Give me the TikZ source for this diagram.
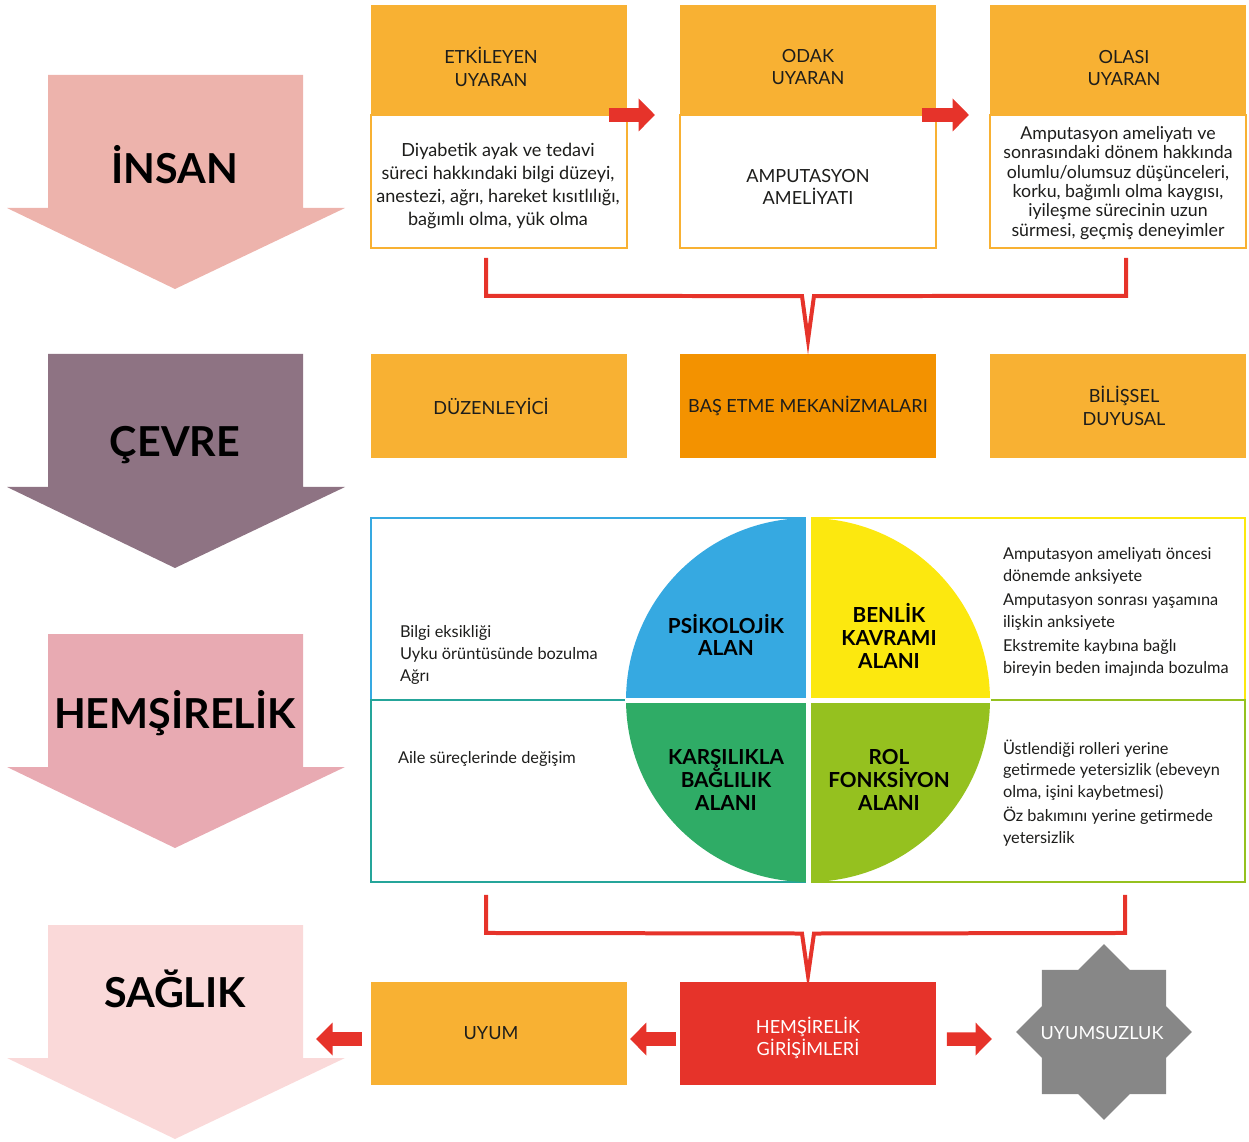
\documentclass[tikz,border=0pt]{standalone}
\usepackage{fontspec}
\setmainfont{Lato}
\usepackage{tikz}
\usetikzlibrary{calc,shapes.geometric,arrows.meta}

\definecolor{insanok}{HTML}{EDB3AC}
\definecolor{cevreok}{HTML}{8E7383}
\definecolor{hemsok}{HTML}{E8AAB2}
\definecolor{saglikok}{HTML}{FAD9D9}
\definecolor{turuncu}{HTML}{F8B133}
\definecolor{koyuturuncu}{HTML}{F39200}
\definecolor{kirmizi}{HTML}{E6332A}
\definecolor{mavi}{HTML}{36A9E1}
\definecolor{sari}{HTML}{FCE80F}
\definecolor{yesil}{HTML}{2FAC66}
\definecolor{acikyesil}{HTML}{95C11F}
\definecolor{camgobegi}{HTML}{25A59A}
\definecolor{gri}{HTML}{878787}
\definecolor{yazi}{HTML}{1D1D1B}

\begin{document}
\begin{tikzpicture}[x=0.02cm,y=-0.02cm]
\tikzstyle{every node}+=[inner sep=0pt, outer sep=0pt, text=yazi]
\tikzstyle{baslik}=[fill=turuncu, minimum width=5.12cm, minimum height=2.2cm]
\tikzstyle{icerik}=[draw=turuncu, line width=0.04cm, fill=white, minimum width=5.12cm, minimum height=2.66cm]
\tikzstyle{kutu}=[fill=turuncu, minimum width=5.12cm, minimum height=2.08cm]
\tikzstyle{metin}=[align=center, font=\fontsize{10.3}{13}\selectfont]
\tikzstyle{buyuk}=[text=black, font=\fontsize{23.5}{28}\selectfont\bfseries]
\tikzstyle{bolge}=[line width=0.04cm, minimum width=8.74cm, minimum height=3.64cm]
\tikzstyle{alan}=[text=black, align=center, font=\fontsize{11.8}{13}\selectfont\bfseries]
\tikzstyle{kucuk}=[anchor=west, align=left, font=\fontsize{9.3}{12.3}\selectfont]
\tikzstyle{parantez}=[draw=kirmizi, line width=0.08cm, line join=miter, miter limit=20]
\tikzstyle{blok}=[draw=kirmizi, line width=0.27cm, -{Triangle[length=0.33cm,width=0.64cm]}]
\useasboundingbox (0,0) rectangle (1249,1142);

% sol taraftaki buyuk oklar
\fill[insanok] (48,75) -- (303,75) -- (303,208) -- (345,208) -- (175,289) -- (7,208) -- (48,208) -- cycle;
\node[buyuk] (insan) at (175,165) {İNSAN};
\fill[cevreok] (48,354) -- (303,354) -- (303,487) -- (345,487) -- (175,568) -- (7,487) -- (48,487) -- cycle;
\node[buyuk] (cevre) at (175,445) {ÇEVRE};
\fill[hemsok] (48,634) -- (303,634) -- (303,767) -- (345,767) -- (175,848) -- (7,767) -- (48,767) -- cycle;
\node[buyuk] (hemsirelik) at (175,713) {HEMŞİRELİK};
\fill[saglikok] (48,925) -- (303,925) -- (303,1058) -- (345,1058) -- (175,1139) -- (7,1058) -- (48,1058) -- cycle;
\node[buyuk] (saglik) at (175,989) {SAĞLIK};

% uyaranlar
\node[baslik] (etkbas) at (499,60) {};
\node[metin] (etkbasyazi) at (491,67) {ETKİLEYEN\\UYARAN};
\node[icerik] (etkic) at (499,181.5) {};
\node[metin] (etkicyazi) at (498,186) {Diyabetik ayak ve tedavi\\süreci hakkındaki bilgi düzeyi,\\anestezi, ağrı, hareket kısıtlılığı,\\bağımlı olma, yük olma};
\node[baslik] (odakbas) at (808,60) {};
\node[metin] (odakbasyazi) at (808,67) {ODAK\\UYARAN};
\node[icerik] (odakic) at (808,181.5) {};
\node[metin] (odakicyazi) at (808,187) {AMPUTASYON\\AMELİYATI};
\node[baslik] (olasibas) at (1118,60) {};
\node[metin] (olasibasyazi) at (1124,68) {OLASI\\UYARAN};
\node[icerik] (olasiic) at (1118,181.5) {};
\node[metin, font=\fontsize{10.1}{11}\selectfont] (olasiicyazi) at (1118,183) {Amputasyon ameliyatı ve\\sonrasındaki dönem hakkında\\olumlu/olumsuz düşünceleri,\\korku, bağımlı olma kaygısı,\\iyileşme sürecinin uzun\\sürmesi, geçmiş deneyimler};
\draw[blok] ($(etkbas.south east)+(-18,0)$) -- ($(odakbas.south west)+(-25,0)$);
\draw[blok] ($(odakbas.south east)+(-14,0)$) -- ($(olasibas.south west)+(-21,0)$);

% mekanizmalar
\node[kutu] (duzen) at (499,406) {};
\node[metin] (duzenyazi) at (491,406) {DÜZENLEYİCİ};
\node[kutu, metin, fill=koyuturuncu] (basetme) at (808,406) {BAŞ ETME MEKANİZMALARI};
\node[kutu] (bilis) at (1118,406) {};
\node[metin] (bilisyazi) at (1124,406) {BİLİŞSEL\\DUYUSAL};

\coordinate (p1l) at ($(etkic.south)+(-13,10)$);
\coordinate (p1r) at ($(olasiic.south)+(8,10)$);
\coordinate (p1uc) at ($(basetme.north)+(0,-14)$);
\draw[parantez] (p1l) -- ($(p1l)+(0,38)$) -- ($(p1uc)+(-6,-44)$) -- (p1uc) -- ($(p1uc)+(6,-44)$) -- ($(p1r)+(0,38)$) -- (p1r);

% uyum alanlari
\node[bolge, draw=mavi] (solust) at (589.5,609) {};
\node[bolge, draw=sari] (sagust) at (1027,609) {};
\node[bolge, draw=camgobegi] (solalt) at (589.5,791) {};
\node[bolge, draw=acikyesil] (sagalt) at (1027,791) {};

\coordinate (merkez) at (808,700);
\begin{scope}
\clip (merkez) rectangle (600,500);
\fill[mavi] (merkez) circle[radius=3.64cm];
\end{scope}
\begin{scope}
\clip (merkez) rectangle (1010,500);
\fill[sari] (merkez) circle[radius=3.64cm];
\end{scope}
\begin{scope}
\clip (merkez) rectangle (600,900);
\fill[yesil] (merkez) circle[radius=3.64cm];
\end{scope}
\begin{scope}
\clip (merkez) rectangle (1010,900);
\fill[acikyesil] (merkez) circle[radius=3.64cm];
\end{scope}
\draw[white, line width=0.1cm] ($(merkez)+(0,-184)$) -- ($(merkez)+(0,184)$);
\draw[white, line width=0.1cm] ($(merkez)+(-183,0)$) -- ($(merkez)+(183,0)$);

\node[alan] (psiko) at (726,635) {PSİKOLOJİK\\ALAN};
\node[alan] (benlik) at (889,636) {BENLİK\\KAVRAMI\\ALANI};
\node[alan] (karsi) at (726,780) {KARŞILIKLA\\BAĞLILIK\\ALANI};
\node[alan] (rol) at (889,780) {ROL\\FONKSİYON\\ALANI};

\node[kucuk] (psikotani) at (400,655) {Bilgi eksikliği\\Uyku örüntüsünde bozulma\\Ağrı};
\node[kucuk] (karsitani) at (398,759) {Aile süreçlerinde değişim};
\node[kucuk] (benliktani) at (1003,612) {Amputasyon ameliyatı öncesi\\dönemde anksiyete\\[1.5pt]Amputasyon sonrası yaşamına\\ilişkin anksiyete\\[1.5pt]Ekstremite kaybına bağlı\\bireyin beden imajında bozulma};
\node[kucuk] (roltani) at (1003,793) {Üstlendiği rolleri yerine\\getirmede yetersizlik (ebeveyn\\olma, işini kaybetmesi)\\[1.5pt]Öz bakımını yerine getirmede\\yetersizlik};

% sonuc
\node[kutu] (uyum) at (499,1033.5) {};
\node[metin] (uyumyazi) at (491,1033) {UYUM};
\node[kutu, fill=kirmizi] (girisim) at (808,1033.5) {};
\node[metin, text=white] (girisimyazi) at (808,1038) {HEMŞİRELİK\\GİRİŞİMLERİ};
\node[star, star points=8, star point ratio=1.31, minimum size=3.52cm, fill=gri] (uyumsuz) at (1104,1032) {};
\node[metin, text=white] (uyumsuzyazi) at (1102,1033) {UYUMSUZLUK};

\coordinate (p2l) at ($(solalt.south)+(-103.5,13)$);
\coordinate (p2r) at ($(sagalt.south)+(98,13)$);
\coordinate (p2uc) at ($(girisim.north)+(0,-6)$);
\draw[parantez] (p2l) -- ($(p2l)+(0,38)$) -- ($(p2uc)+(-6,-42)$) -- (p2uc) -- ($(p2uc)+(6,-42)$) -- ($(p2r)+(0,38)$) -- (p2r);

\draw[blok] ($(uyum.west)+(-9,5.5)$) -- ($(uyum.west)+(-55,5.5)$);
\draw[blok] ($(girisim.west)+(-4,5.5)$) -- ($(uyum.east)+(3,5.5)$);
\draw[blok] ($(girisim.east)+(11,5.5)$) -- ($(uyumsuz.center)+(-112,7)$);
\end{tikzpicture}
\end{document}
